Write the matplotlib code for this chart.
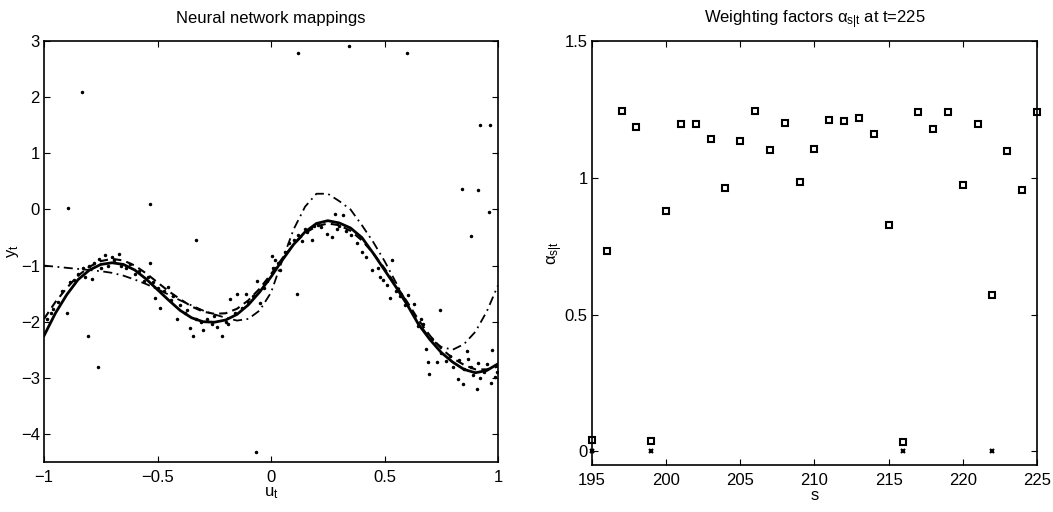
import matplotlib
matplotlib.use("Agg")
import matplotlib.pyplot as plt

plt.rcParams['font.family'] = ['Liberation Sans', 'DejaVu Sans']
plt.rcParams['mathtext.fontset'] = 'custom'
plt.rcParams['mathtext.rm'] = 'Liberation Sans'
plt.rcParams['mathtext.it'] = 'Liberation Sans'
plt.rcParams['mathtext.sf'] = 'Liberation Sans'

# ---------------- Left panel data ----------------
curve_x = [-1.0, -0.95, -0.9, -0.85, -0.8, -0.75, -0.7, -0.65, -0.6, -0.55, -0.5, -0.45,
           -0.4, -0.35, -0.3, -0.25, -0.2, -0.15, -0.1, -0.05, 0.0, 0.05, 0.1, 0.15, 0.2,
           0.25, 0.3, 0.35, 0.4, 0.45, 0.5, 0.55, 0.6, 0.65, 0.7, 0.75, 0.8, 0.85, 0.9,
           0.95, 1.0]
true_y = [-2.25, -1.85, -1.52, -1.25, -1.08, -0.98, -0.95, -0.98, -1.08, -1.24, -1.43, -1.62,
          -1.80, -1.93, -2.00, -2.01, -1.97, -1.87, -1.70, -1.47, -1.20, -0.90, -0.62, -0.40,
          -0.25, -0.20, -0.24, -0.33, -0.50, -0.78, -1.08, -1.38, -1.70, -2.05, -2.32, -2.55,
          -2.72, -2.85, -2.91, -2.87, -2.75]
dashed_y = [-1.95, -1.65, -1.40, -1.18, -1.02, -0.92, -0.88, -0.91, -1.00, -1.14, -1.30, -1.46,
            -1.60, -1.73, -1.82, -1.86, -1.85, -1.77, -1.62, -1.41, -1.15, -0.87, -0.62, -0.42,
            -0.30, -0.25, -0.28, -0.38, -0.55, -0.78, -1.05, -1.35, -1.65, -1.97, -2.25, -2.48,
            -2.65, -2.77, -2.85, -2.85, -2.80]
dashdot_y = [-1.00, -1.02, -1.04, -1.06, -1.08, -1.10, -1.13, -1.18, -1.25, -1.33, -1.42, -1.52,
             -1.62, -1.71, -1.80, -1.87, -1.93, -1.98, -1.95, -1.80, -1.48, -0.90, -0.35, 0.05,
             0.28, 0.28, 0.15, 0.00, -0.28, -0.58, -0.92, -1.30, -1.68, -2.02, -2.30, -2.45,
             -2.50, -2.40, -2.18, -1.82, -1.35]

dots_x = [-0.985, -0.97, -0.959, -0.94, -0.92, -0.90, -0.885, -0.87, -0.85, -0.83, -0.82, -0.80,
          -0.79, -0.78, -0.76, -0.75, -0.73, -0.72, -0.70, -0.69, -0.67, -0.66, -0.64, -0.62,
          -0.60, -0.894, -0.833, -0.805, -0.761,
          -0.58, -0.56, -0.54, -0.533, -0.52, -0.511, -0.50, -0.489, -0.47, -0.452, -0.44, -0.43,
          -0.415, -0.40, -0.38, -0.37, -0.355, -0.342, -0.33, -0.31, -0.298, -0.28, -0.26, -0.25,
          -0.24, -0.217, -0.20, -0.533, -0.33,
          -0.19, -0.18, -0.16, -0.15, -0.13, -0.11, -0.10, -0.08, -0.06, -0.048, -0.03, -0.02,
          0.003, 0.01, 0.017, 0.03, 0.04, 0.06, 0.08, 0.10, 0.12, 0.135, 0.15, 0.16, 0.179, 0.19,
          0.208, 0.22, -0.066, 0.113, 0.12,
          0.245, 0.267, 0.282, 0.29, 0.30, 0.319, 0.33, 0.35, 0.38, 0.40, 0.42, 0.444, 0.47, 0.48,
          0.495, 0.51, 0.524, 0.532, 0.55, 0.57, 0.59, 0.605, 0.344, 0.60,
          0.628, 0.649, 0.66, 0.671, 0.681, 0.693, 0.696, 0.71, 0.73, 0.75, 0.77, 0.79, 0.80,
          0.822, 0.826, 0.844, 0.85, 0.862, 0.868, 0.88, 0.89, 0.906, 0.91, 0.92, 0.94, 0.95,
          0.969, 0.972, 0.985, 0.995, 0.744, 0.843, 0.881, 0.911, 0.92, 0.965, 0.96]
dots_y = [-1.95, -1.85, -1.77, -1.65, -1.45, -1.84, -1.30, -1.25, -1.15, -1.05, -1.20, -1.00,
          -1.24, -0.95, -0.88, -1.05, -0.82, -1.00, -0.85, -0.90, -0.80, -1.00, -1.05, -0.98,
          -1.15, 0.03, 2.10, -2.25, -2.80,
          -1.10, -1.28, -1.20, -0.95, -1.30, -1.57, -1.40, -1.75, -1.45, -1.39, -1.62, -1.55,
          -1.95, -1.70, -1.85, -1.80, -2.12, -2.25, -1.95, -2.00, -2.15, -1.95, -2.05, -1.90,
          -2.10, -2.25, -2.00, 0.09, -0.55,
          -2.05, -1.60, -1.85, -1.50, -1.75, -1.50, -1.65, -1.55, -1.27, -1.66, -1.40, -1.27,
          -0.83, -1.05, -0.90, -0.95, -1.07, -0.75, -0.60, -0.55, -0.45, -0.57, -0.35, -0.40,
          -0.54, -0.30, -0.28, -0.32, -4.32, -1.50, 2.78,
          -0.44, -0.49, -0.08, -0.35, -0.30, -0.10, -0.38, -0.45, -0.60, -0.75, -0.85, -1.08,
          -1.04, -1.20, -1.26, -1.35, -1.57, -0.90, -1.45, -1.55, -1.70, -1.52, 2.92, 2.78,
          -1.68, -2.07, -1.95, -2.04, -2.48, -2.72, -2.94, -2.30, -2.72, -2.55, -2.70, -2.62,
          -2.80, -3.03, -2.68, -3.11, -2.85, -2.52, -2.66, -2.80, -2.95, -3.20, -2.73, -3.00,
          -2.90, -2.75, -3.09, -2.50, -2.98, -2.90, -1.79, 0.37, -0.47, 0.34, 1.50, 1.50, -0.05]

left_xticks = [-1, -0.5, 0, 0.5, 1]
left_xticklabels = ['\u22121', '\u22120.5', '0', '0.5', '1']
left_yticks = [-4, -3, -2, -1, 0, 1, 2, 3]
left_yticklabels = ['\u22124', '\u22123', '\u22122', '\u22121', '0', '1', '2', '3']

# ---------------- Right panel data ----------------
s_vals = list(range(195, 226))
alpha_vals = [0.042, 0.733, 1.244, 1.184, 0.036, 0.879, 1.196, 1.196, 1.142, 0.964, 1.135,
              1.244, 1.103, 1.200, 0.985, 1.107, 1.211, 1.206, 1.220, 1.160, 0.828, 0.034,
              1.240, 1.179, 1.239, 0.974, 1.195, 0.570, 1.098, 0.957, 1.240]
zero_s = [195, 199, 216, 222]
zero_vals = [0, 0, 0, 0]

right_xticks = [195, 200, 205, 210, 215, 220, 225]
right_yticks = [0, 0.5, 1, 1.5]
right_yticklabels = ['0', '0.5', '1', '1.5']

# ---------------- Figure ----------------
FS = 12
fig = plt.figure(figsize=(10.53, 5.12), dpi=100)
ax1 = fig.add_axes([0.0418, 0.0977, 0.4312, 0.822])
ax2 = fig.add_axes([0.5622, 0.0918, 0.4226, 0.828])

ax1.plot(dots_x, dots_y, linestyle='none', marker='.', color='black', markersize=3)
ax1.plot(curve_x, true_y, '-', color='black', linewidth=2.0)
ax1.plot(curve_x, dashed_y, '--', color='black', linewidth=1.5, dashes=(4, 2.5))
ax1.plot(curve_x, dashdot_y, '-.', color='black', linewidth=1.3, dashes=(5, 2.5, 1, 2.5))
ax1.set_xlim(-1, 1)
ax1.set_ylim(-4.5, 3)
ax1.set_xticks(left_xticks)
ax1.set_xticklabels(left_xticklabels)
ax1.set_yticks(left_yticks)
ax1.set_yticklabels(left_yticklabels)
ax1.set_title('Neural network mappings', fontsize=FS, pad=13)
ax1.set_xlabel(r'u$_\mathregular{t}$', fontsize=FS, labelpad=0)
ax1.set_ylabel(r'y$_\mathregular{t}$', fontsize=FS, labelpad=0)

ax2.plot(s_vals, alpha_vals, linestyle='none', marker='s', markersize=5,
         markerfacecolor='white', markeredgecolor='black', markeredgewidth=1.5, clip_on=False)
ax2.plot(zero_s, zero_vals, linestyle='none', marker='x', markersize=3.5,
         color='black', markeredgewidth=1.5, clip_on=False)
ax2.set_xlim(195, 225)
ax2.set_ylim(-0.05, 1.5)
ax2.set_xticks(right_xticks)
ax2.set_yticks(right_yticks)
ax2.set_yticklabels(right_yticklabels)
ax2.set_title(r'Weighting factors $\alpha_{\mathregular{s|t}}$ at t=225', fontsize=FS, pad=13)
ax2.set_xlabel('s', fontsize=FS, labelpad=0)
ax2.set_ylabel(r'$\alpha_{\mathregular{s|t}}$', fontsize=FS, labelpad=0)

for ax in (ax1, ax2):
    ax.tick_params(direction='in', length=4, width=0.8, top=True, right=True,
                   labelsize=FS, colors='black')
    ax.tick_params(axis='x', pad=6)
    ax.tick_params(axis='y', pad=3)
    for sp in ax.spines.values():
        sp.set_linewidth(1.2)
        sp.set_color('black')

fig.savefig('out.png', dpi=100)
